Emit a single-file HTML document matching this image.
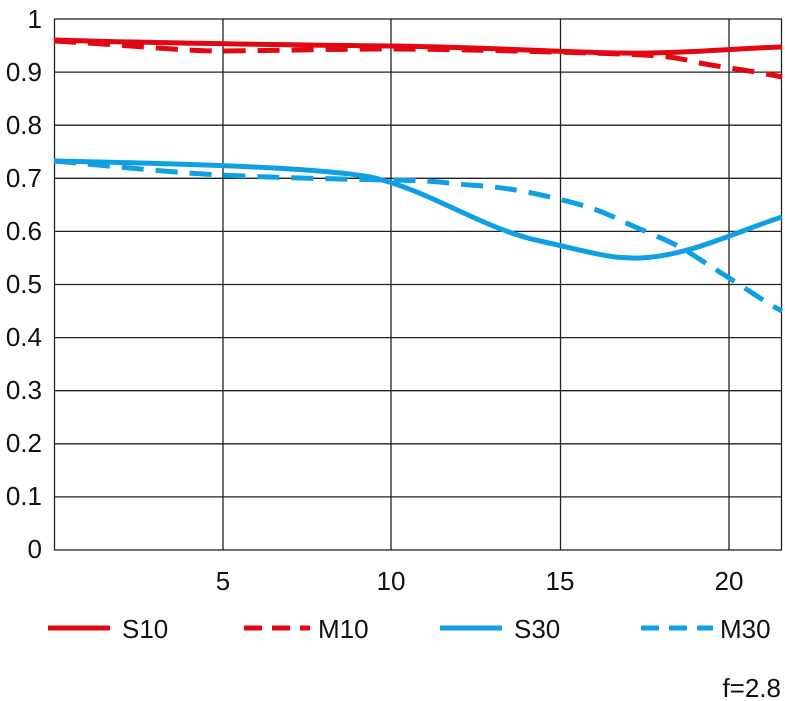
<!DOCTYPE html>
<html><head><style>body{margin:0;background:#fff}svg{display:block}text{font-family:"Liberation Sans",sans-serif;fill:#111}</style></head><body>
<svg width="785" height="701" viewBox="0 0 785 701">
<g stroke="#222" stroke-width="1.3" fill="none">
<rect x="54.5" y="19" width="727" height="531"/>
<path d="M54.5 72.1H781.5M54.5 125.2H781.5M54.5 178.3H781.5M54.5 231.4H781.5M54.5 284.5H781.5M54.5 337.6H781.5M54.5 390.7H781.5M54.5 443.8H781.5M54.5 496.9H781.5M223 19V550M391 19V550M560.5 19V550M729 19V550"/>
</g>
<g font-size="26" text-anchor="end">
<text x="42" y="28">1</text><text x="42" y="81">0.9</text><text x="42" y="134">0.8</text><text x="42" y="187">0.7</text><text x="42" y="240">0.6</text><text x="42" y="293">0.5</text><text x="42" y="346">0.4</text><text x="42" y="399">0.3</text><text x="42" y="452">0.2</text><text x="42" y="505">0.1</text><text x="42" y="558">0</text>
</g>
<g font-size="26" text-anchor="middle">
<text x="223" y="590">5</text><text x="391" y="590">10</text><text x="560" y="590">15</text><text x="729" y="590">20</text>
</g>
<g fill="none" stroke-width="5">
<path stroke="#e30613" d="M54 40C150 43 300 45 390 46S560 52 620 53S740 48 782 47"/>
<path stroke="#e30613" stroke-dasharray="22,12" d="M54 41C130 45 180 51 220 51S330 49 390 49S560 52 620 54S680 59 700 63S760 72 782 77"/>
<path stroke="#0ea0e3" d="M54 161C200 164 320 168 370 177C430 190 480 228 540 241C590 252 610 259 640 258C690 256 740 230 782 217"/>
<path stroke="#0ea0e3" stroke-dasharray="22,12" d="M54 161C130 168 180 173 220 175S330 179 390 180S440 183 470 185S520 190 550 197S600 210 620 220S670 240 690 253S720 272 740 285S770 305 782 311"/>
</g>
<g stroke-width="5">
<path stroke="#e30613" d="M48 628H110"/>
<path stroke="#e30613" stroke-dasharray="18,10" d="M244 628H310"/>
<path stroke="#0ea0e3" d="M440 628H502"/>
<path stroke="#0ea0e3" stroke-dasharray="18,10" d="M641 628H713"/>
</g>
<g font-size="26">
<text x="122" y="638">S10</text><text x="318" y="638">M10</text><text x="514" y="638">S30</text><text x="720" y="638">M30</text>
</g>
<text x="781" y="697" font-size="26" text-anchor="end">f=2.8</text>
</svg>
</body></html>
